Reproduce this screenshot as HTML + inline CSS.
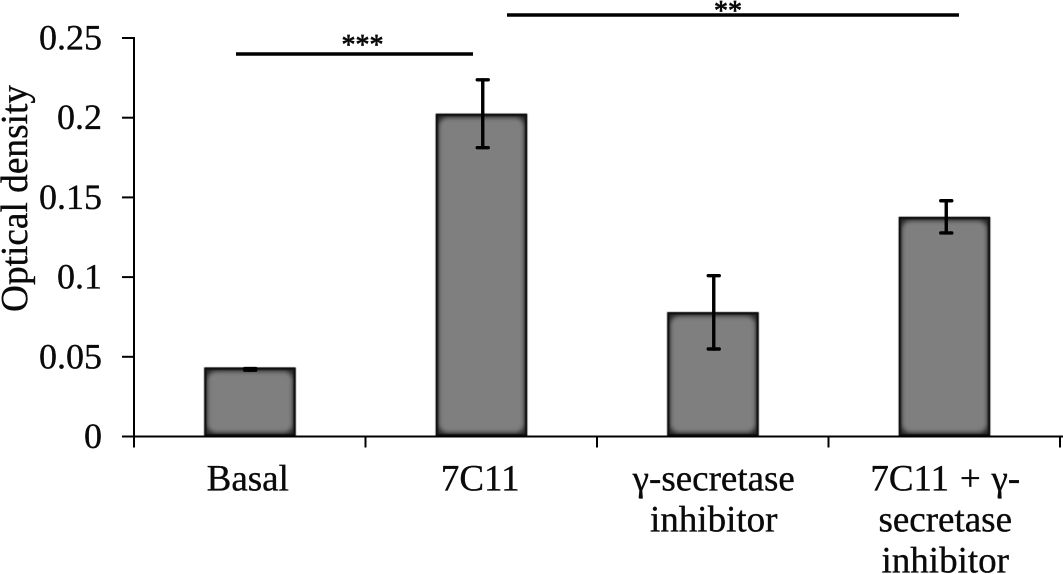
<!DOCTYPE html>
<html lang="en">
<head>
<meta charset="utf-8">
<title>Optical density bar chart</title>
<style>
html,body{margin:0;padding:0;background:#fff;width:1063px;height:574px;overflow:hidden}
svg{display:block}
text{font-family:"Liberation Serif",serif;fill:#0a0a0a;stroke:#0a0a0a;stroke-width:0.35px}
</style>
</head>
<body>
<svg id="chart" width="1063" height="574" viewBox="0 0 1063 574" xmlns="http://www.w3.org/2000/svg">
  <defs>
    <filter id="soft" x="-20%" y="-20%" width="140%" height="140%"><feGaussianBlur stdDeviation="2.6"/></filter>
    <filter id="slight" x="-5%" y="-5%" width="110%" height="110%"><feGaussianBlur stdDeviation="0.5"/></filter>
  </defs>
  <g id="bars"></g>
  <g id="axes"></g>
  <g id="errors"></g>
  <g id="labels"></g>
  <text transform="translate(27,312) rotate(-90)" font-size="38" textLength="227" lengthAdjust="spacingAndGlyphs">Optical density</text>
  <g>
    <line x1="236" x2="473" y1="54" y2="54" stroke="#000" stroke-width="3.4"/>
    <text x="362.5" y="54" font-size="28" text-anchor="middle" style="stroke-width:0.7px">***</text>
    <line x1="507" x2="959" y1="15" y2="15" stroke="#000" stroke-width="3.4"/>
    <text x="728" y="20" font-size="28" text-anchor="middle" style="stroke-width:0.7px">**</text>
  </g>
</svg>
<script>
const categories = [["Basal"], ["7C11"], ["γ-secretase", "inhibitor"], ["7C11 + γ-", "secretase", "inhibitor"]];
const seriesValues = [0.0433, 0.2025, 0.078, 0.1378];
const errorTop = [0.0426, 0.2238, 0.1009, 0.1479];
const errorBottom = [0.0416, 0.1812, 0.0549, 0.1277];
const yTicks = [0, 0.05, 0.1, 0.15, 0.2, 0.25];
const yTickLabels = ["0", "0.05", "0.1", "0.15", "0.2", "0.25"];

const NS = "http://www.w3.org/2000/svg";
const plotLeft = 134, plotRight = 1060, plotBottom = 436.5, plotTop = 38;
const yMax = 0.25, barWidth = 91;
const yScale = v => plotBottom - (v / yMax) * (plotBottom - plotTop);
const band = (plotRight - plotLeft) / categories.length;
const xCenter = i => plotLeft + band * (i + 0.5);

function make(parent, tag, attrs, text) {
  const el = document.createElementNS(NS, tag);
  for (const k in attrs) el.setAttribute(k, attrs[k]);
  if (text !== undefined) el.textContent = text;
  parent.appendChild(el);
  return el;
}
const barsG = document.getElementById("bars");
const axesG = document.getElementById("axes");
const errG = document.getElementById("errors");
const labG = document.getElementById("labels");

seriesValues.forEach((v, i) => {
  const cx = xCenter(i) + 0.2, top = yScale(v), x = cx - barWidth / 2, h = plotBottom - top;
  const g = make(barsG, "g", {});
  
  
  const clipId = "clip" + i;
  const clip = make(g, "clipPath", { id: clipId });
  make(clip, "rect", { x: x, y: top, width: barWidth, height: h });
  const inner = make(g, "g", { "clip-path": "url(#" + clipId + ")" });
  make(inner, "rect", { x: x, y: top, width: barWidth, height: h, fill: "#262626" });
  make(inner, "rect", { x: x + 3, y: top + 4, width: barWidth - 6, height: h - 8, rx: 9, fill: "#7f7f7f", filter: "url(#soft)" });
  make(inner, "rect", { x: x + 6, y: top + 7.5, width: barWidth - 12, height: h - 15, fill: "#7f7f7f", filter: "url(#soft)" });
  make(g, "rect", { x: x + 0.8, y: top + 1.1, width: barWidth - 1.6, height: h - 2.2, fill: "none", stroke: "#0c0c0c", "stroke-width": 2.2, filter: "url(#slight)" });
});

const axisY = make(axesG, "line", { x1: plotLeft, x2: plotLeft, y1: yScale(yMax) - 1, y2: plotBottom + 11, stroke: "#000", "stroke-width": 2 });


const axisX = make(axesG, "line", { x1: plotLeft - 12, x2: plotRight + 3, y1: plotBottom, y2: plotBottom, stroke: "#000", "stroke-width": 2 });



yTicks.forEach((t, i) => {
  const y = yScale(t);
  const tick = make(axesG, "line", { x1: plotLeft - 12, x2: plotLeft, y1: y, y2: y, stroke: "#000", "stroke-width": 2 });
  
  
  const lab = make(labG, "text", { x: 102, y: y + 11.5, "font-size": 36, "text-anchor": "end" }, yTickLabels[i]);
  
  
});

for (let i = 1; i <= categories.length; i++) {
  const x = plotLeft + band * i;
  const tick = make(axesG, "line", { x1: x, x2: x, y1: plotBottom, y2: plotBottom + 11, stroke: "#000", "stroke-width": 2 });
  
  
}

seriesValues.forEach((v, i) => {
  const nudge = [0.5, 1.5, 1, 2];
  const cx = xCenter(i) + nudge[i];
  const yHi = yScale(errorTop[i]), yLo = yScale(errorBottom[i]);
  const g = make(errG, "g", { stroke: "#000", "stroke-linecap": "round" });
  
  
  make(g, "line", { x1: cx, x2: cx, y1: yHi, y2: yLo, "stroke-width": 3.4 });
  make(g, "line", { x1: cx - 5.5, x2: cx + 5.5, y1: yHi, y2: yHi, "stroke-width": 3.4 });
  make(g, "line", { x1: cx - 5.5, x2: cx + 5.5, y1: yLo, y2: yLo, "stroke-width": 3.4 });
});

categories.forEach((lines, i) => {
  const offs = [-2, -1, 1, 1];
  lines.forEach((line, j) => {
    const t = make(labG, "text", { x: xCenter(i) + offs[i], y: 490.5 + j * 41, "font-size": 37, "text-anchor": "middle", "word-spacing": 1.5 }, line);
    
    
  });
});
</script>
</body>
</html>
